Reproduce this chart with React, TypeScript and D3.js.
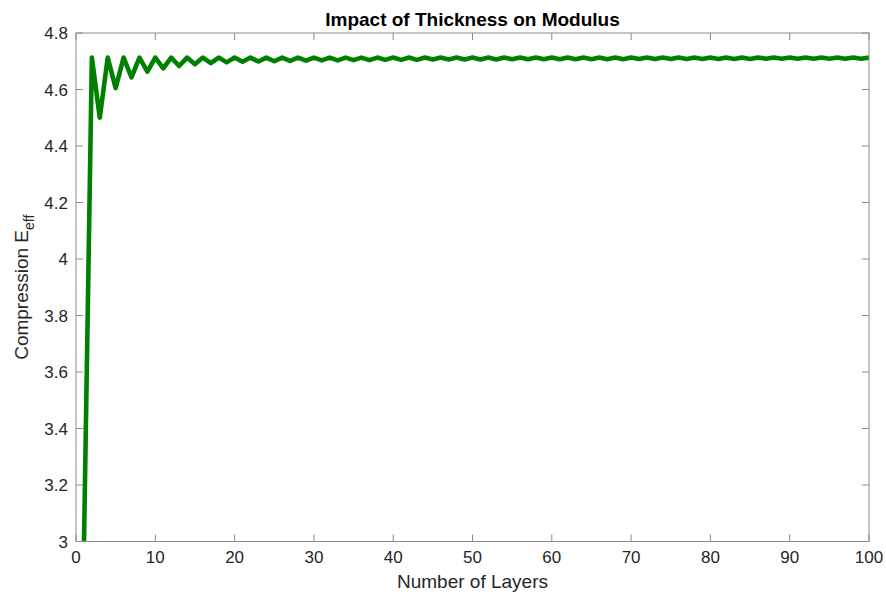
import React from "react";
import * as d3 from "d3";

const layers: number[] = d3.range(1, 101);
const modulus: number[] = [
  2.98, 4.713, 4.5, 4.713, 4.605, 4.713, 4.643, 4.713, 4.663, 4.713,
  4.675, 4.713, 4.683, 4.713, 4.689, 4.713, 4.693, 4.713, 4.696, 4.713,
  4.698, 4.713, 4.699, 4.713, 4.7, 4.713, 4.701, 4.713, 4.702, 4.713,
  4.703, 4.713, 4.703, 4.713, 4.704, 4.713, 4.704, 4.713, 4.705, 4.713,
  4.705, 4.713, 4.705, 4.713, 4.706, 4.713, 4.706, 4.713, 4.706, 4.713,
  4.706, 4.713, 4.706, 4.713, 4.707, 4.713, 4.707, 4.713, 4.707, 4.713,
  4.707, 4.713, 4.707, 4.713, 4.707, 4.713, 4.707, 4.713, 4.707, 4.713,
  4.708, 4.713, 4.708, 4.713, 4.708, 4.713, 4.708, 4.713, 4.708, 4.713,
  4.708, 4.713, 4.708, 4.713, 4.708, 4.713, 4.709, 4.713, 4.709, 4.713,
  4.709, 4.713, 4.709, 4.713, 4.709, 4.713, 4.709, 4.713, 4.709, 4.713,
];
const xTicks: number[] = [0, 10, 20, 30, 40, 50, 60, 70, 80, 90, 100];
const yTicks: number[] = [3, 3.2, 3.4, 3.6, 3.8, 4, 4.2, 4.4, 4.6, 4.8];
const yTickLabels: string[] = ["3", "3.2", "3.4", "3.6", "3.8", "4", "4.2", "4.4", "4.6", "4.8"];

const W = 886;
const H = 595;
const L = 76, R = 869, T = 33, B = 541.5;
const FONT = "'Liberation Sans', Arial, Helvetica, sans-serif";
const AX = "#8c8c8c";
const TXT = "#262626";

export default function App() {
  const x = d3.scaleLinear().domain([0, 100]).range([L, R]);
  const y = d3.scaleLinear().domain([3, 4.8]).range([B, T]);
  const pts: [number, number][] = layers.map((l, i) => [l, modulus[i]]);
  const line = d3.line<[number, number]>().x(d => x(d[0])).y(d => y(d[1]));
  const tl = 7;
  return (
    <svg width={W} height={H} style={{ position: "absolute", left: 0, top: 0, background: "#fff" }} fontFamily={FONT}>
      <defs>
        <clipPath id="plotclip">
          <rect x={L} y={T} width={R - L} height={B - T} />
        </clipPath>
      </defs>
      <rect x={0} y={0} width={W} height={H} fill="#fff" />
      <path d={line(pts) || ""} fill="none" stroke="#008000" strokeWidth={4.6} strokeLinejoin="round" clipPath="url(#plotclip)" />
      <rect x={L} y={T} width={R - L} height={B - T} fill="none" stroke={AX} strokeWidth={1} />
      {xTicks.map(t => (
        <g key={"x" + t}>
          <line x1={x(t)} x2={x(t)} y1={B} y2={B - tl} stroke={AX} />
          <line x1={x(t)} x2={x(t)} y1={T} y2={T + tl} stroke={AX} />
          <text x={x(t)} y={563} textAnchor="middle" fontSize={17} fill={TXT}>{t}</text>
        </g>
      ))}
      {yTicks.map((t, i) => (
        <g key={"y" + t}>
          <line x1={L} x2={L + tl} y1={y(t)} y2={y(t)} stroke={AX} />
          <line x1={R} x2={R - tl} y1={y(t)} y2={y(t)} stroke={AX} />
          <text x={68} y={y(t) + 6} textAnchor="end" fontSize={17} fill={TXT}>{yTickLabels[i]}</text>
        </g>
      ))}
      <text x={(L + R) / 2} y={26} textAnchor="middle" fontSize={19} fontWeight="bold" fill="#000">Impact of Thickness on Modulus</text>
      <text x={(L + R) / 2} y={588} textAnchor="middle" fontSize={19} fill={TXT}>Number of Layers</text>
      <text transform={`translate(28, ${(T + B) / 2}) rotate(-90)`} textAnchor="middle" fontSize={19} fill={TXT}>
        Compression E<tspan fontSize={14} dy={6}>eff</tspan>
      </text>
    </svg>
  );
}
